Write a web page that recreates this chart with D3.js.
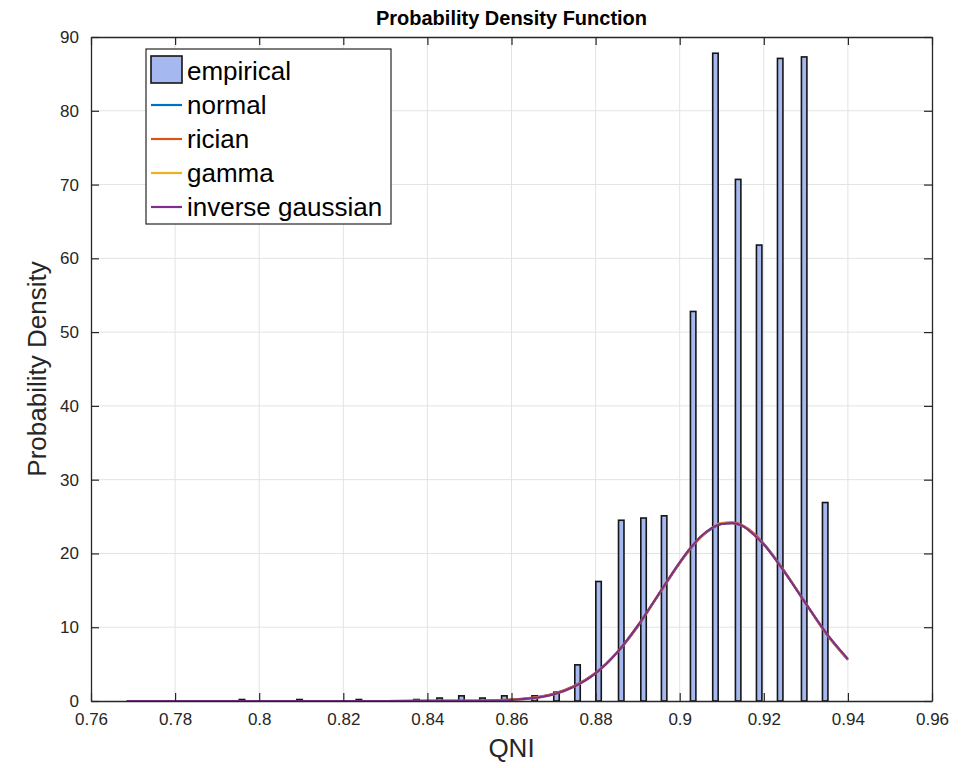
<!DOCTYPE html>
<html>
<head>
<meta charset="utf-8">
<script src="https://cdn.jsdelivr.net/npm/d3@7"></script>
<style>
  body { margin: 0; background: #fff; }
  text { font-family: "Liberation Sans", Arial, sans-serif; }
</style>
</head>
<body>
<svg id="chart" width="967" height="768"></svg>
<script>
// histogram bins (centres) and their probability density
const binCenters = [0.7959, 0.8096, 0.8237, 0.8374, 0.8429, 0.8481, 0.8531, 0.8583, 0.8655, 0.8707,
  0.8757, 0.8807, 0.8861, 0.8914, 0.8963, 0.9032, 0.9085, 0.9139, 0.9189, 0.9239, 0.9296, 0.9346];
const density = [0.2, 0.2, 0.2, 0.2, 0.4, 0.7, 0.4, 0.7, 0.7, 1.2,
  4.9, 16.2, 24.5, 24.8, 25.1, 52.8, 87.8, 70.7, 61.8, 87.1, 87.3, 26.9];
const binWidth = 0.0013;

// fitted curves
const fitX = [0.7685, 0.78, 0.80, 0.82, 0.84, 0.85, 0.855, 0.86, 0.865, 0.87, 0.875, 0.88, 0.885,
  0.89, 0.895, 0.90, 0.9025, 0.905, 0.9075, 0.91, 0.9125, 0.915, 0.9175, 0.92, 0.925, 0.93, 0.935, 0.94];
const normalY = [0, 0, 0, 0, 0.01, 0.03, 0.07, 0.18, 0.44, 0.98, 2.05, 3.8, 6.5,
  10.1, 14.4, 18.7, 20.6, 22.2, 23.3, 24.0, 24.1, 23.7, 22.7, 21.3, 17.5, 13.2, 9.0, 5.6];
const ricianY = [0, 0, 0, 0, 0.01, 0.03, 0.07, 0.19, 0.45, 0.99, 2.06, 3.82, 6.5,
  10.1, 14.4, 18.7, 20.6, 22.2, 23.4, 24.1, 24.2, 23.8, 22.8, 21.3, 17.5, 13.2, 9.0, 5.6];
const gammaY = [0, 0, 0, 0, 0.005, 0.02, 0.05, 0.14, 0.38, 0.9, 1.98, 3.75, 6.5,
  10.2, 14.5, 18.8, 20.7, 22.3, 23.4, 24.1, 24.1, 23.7, 22.6, 21.2, 17.4, 13.2, 9.1, 5.7];
const invGaussY = [0, 0, 0, 0, 0.005, 0.02, 0.05, 0.14, 0.38, 0.9, 1.97, 3.74, 6.5,
  10.2, 14.5, 18.8, 20.7, 22.3, 23.4, 24.0, 24.1, 23.7, 22.6, 21.2, 17.4, 13.2, 9.1, 5.7];

const seriesNames = ["normal", "rician", "gamma", "inverse gaussian"];
const seriesColors = ["#0072BD", "#D95319", "#EDB120", "#7E2F8E"];
const seriesValues = [normalY, ricianY, gammaY, invGaussY];

const xTicks = [0.76, 0.78, 0.8, 0.82, 0.84, 0.86, 0.88, 0.9, 0.92, 0.94, 0.96];
const yTicks = [0, 10, 20, 30, 40, 50, 60, 70, 80, 90];

const plotL = 91, plotR = 932, plotT = 37, plotB = 701;
const axisColor = "#262626";

const svg = d3.select("#chart");

const x = d3.scaleLinear().domain([0.76, 0.96]).range([plotL, plotR]);
const y = d3.scaleLinear().domain([0, 90]).range([plotB, plotT]);

//grid
const grid = svg.append("g").attr("stroke", "#e3e3e3").attr("stroke-width", 1);
grid.selectAll(".gx").data(xTicks.slice(1, -1)).enter().append("line")
  .attr("x1", d => x(d)).attr("x2", d => x(d)).attr("y1", plotT).attr("y2", plotB);
grid.selectAll(".gy").data(yTicks.slice(1, -1)).enter().append("line")
  .attr("y1", d => y(d)).attr("y2", d => y(d)).attr("x1", plotL).attr("x2", plotR);

//bars
svg.append("g").selectAll("rect").data(binCenters).enter().append("rect")
  .attr("x", (d) => x(d - binWidth / 2))
  .attr("width", (d) => x(d + binWidth / 2) - x(d - binWidth / 2))
  .attr("y", (d, i) => y(density[i]))
  .attr("height", (d, i) => y(0) - y(density[i]))
  .attr("fill", "#a5b8f0")
  .attr("stroke", "#151515")
  .attr("stroke-width", 1.6);

//fit curves
const line = d3.line()
  .x((d, i) => x(fitX[i]))
  .y(d => y(d))
  .curve(d3.curveMonotoneX);

seriesValues.forEach((vals, k) => {
  svg.append("path")
    .attr("d", line(vals))
    .attr("fill", "none")
    .attr("stroke", seriesColors[k])
    .attr("stroke-width", 2.2);
});

//axes
function styleAxis(g) {
  g.select(".domain").attr("stroke", axisColor).attr("stroke-width", 1.3);
  g.selectAll(".tick line").attr("stroke", axisColor).attr("stroke-width", 1.2);
  g.selectAll(".tick text").attr("fill", axisColor)
    .style("font-family", "Liberation Sans, Arial, sans-serif").style("font-size", "17px");
}

svg.append("g").attr("transform", `translate(0,${plotB})`)
  .call(d3.axisBottom(x).tickValues(xTicks).tickSizeInner(-8).tickSizeOuter(0).tickPadding(12)
    .tickFormat(d3.format("")))
  .call(styleAxis);
svg.append("g").attr("transform", `translate(0,${plotT})`)
  .call(d3.axisTop(x).tickValues(xTicks).tickSizeInner(-8).tickSizeOuter(0).tickFormat(""))
  .call(styleAxis);
svg.append("g").attr("transform", `translate(${plotL},0)`)
  .call(d3.axisLeft(y).tickValues(yTicks).tickSizeInner(-8).tickSizeOuter(0).tickPadding(12))
  .call(styleAxis);
svg.append("g").attr("transform", `translate(${plotR},0)`)
  .call(d3.axisRight(y).tickValues(yTicks).tickSizeInner(-8).tickSizeOuter(0).tickFormat(""))
  .call(styleAxis);

//title and labels
svg.append("text")
  .attr("x", (plotL + plotR) / 2).attr("y", 25)
  .attr("text-anchor", "middle")
  .attr("font-size", "20px").attr("font-weight", "bold").attr("fill", "#000")
  .text("Probability Density Function");

svg.append("text")
  .attr("x", (plotL + plotR) / 2).attr("y", 757)
  .attr("text-anchor", "middle")
  .attr("font-size", "26px").attr("fill", axisColor)
  .text("QNI");

svg.append("text")
  .attr("transform", `translate(46,${(plotT + plotB) / 2}) rotate(-90)`)
  .attr("text-anchor", "middle")
  .attr("font-size", "26px").attr("fill", axisColor)
  .text("Probability Density");

//legend
const legend = svg.append("g");
legend.append("rect")
  .attr("x", 146).attr("y", 49).attr("width", 245).attr("height", 175)
  .attr("fill", "#fff").attr("stroke", axisColor).attr("stroke-width", 1.2);

legend.append("rect")
  .attr("x", 151).attr("y", 56).attr("width", 31).attr("height", 27)
  .attr("fill", "#a5b8f0").attr("stroke", "#151515").attr("stroke-width", 1.6);
legend.append("text")
  .attr("x", 187).attr("y", 80)
  .attr("font-size", "26px").attr("fill", "#000")
  .text("empirical");

seriesNames.forEach((name, k) => {
  const ly = 105 + k * 34;
  legend.append("line")
    .attr("x1", 151).attr("x2", 182).attr("y1", ly).attr("y2", ly)
    .attr("stroke", seriesColors[k]).attr("stroke-width", 2.2);
  legend.append("text")
    .attr("x", 187).attr("y", ly + 9)
    .attr("font-size", "26px").attr("fill", "#000")
    .text(name);
});
</script>
</body>
</html>
